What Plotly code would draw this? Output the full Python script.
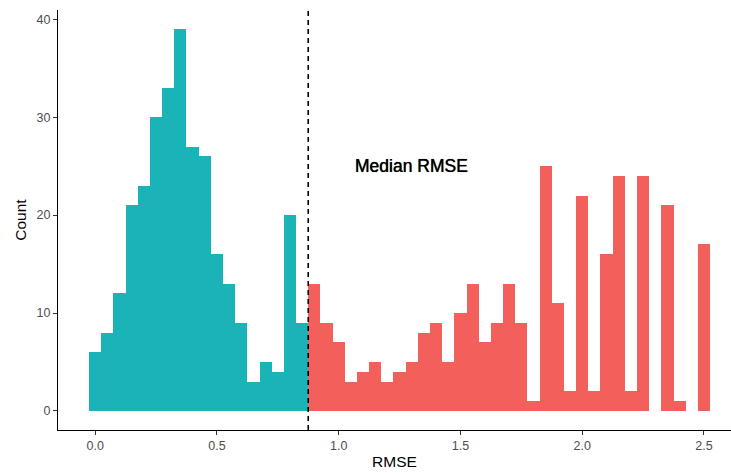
import plotly.graph_objects as go

# Histogram bins (centres, bin width 0.05) and counts
below_centers = [0.00, 0.05, 0.10, 0.15, 0.20, 0.25, 0.30, 0.35, 0.40, 0.45,
                 0.50, 0.55, 0.60, 0.65, 0.70, 0.75, 0.80, 0.85]
below_counts = [6, 8, 12, 21, 23, 30, 33, 39, 27, 26,
                16, 13, 9, 3, 5, 4, 20, 9]

above_centers = [0.90, 0.95, 1.00, 1.05, 1.10, 1.15, 1.20, 1.25, 1.30, 1.35,
                 1.40, 1.45, 1.50, 1.55, 1.60, 1.65, 1.70, 1.75, 1.80, 1.85,
                 1.90, 1.95, 2.00, 2.05, 2.10, 2.15, 2.20, 2.25, 2.30, 2.35,
                 2.40, 2.45, 2.50]
above_counts = [13, 9, 7, 3, 4, 5, 3, 4, 5, 8,
                9, 5, 10, 13, 7, 9, 13, 9, 1, 25,
                11, 2, 22, 2, 16, 24, 2, 24, 0, 21,
                1, 0, 17]

bin_width = 0.05
median_rmse = 0.875
x_ticks = [0.0, 0.5, 1.0, 1.5, 2.0, 2.5]
y_ticks = [0, 10, 20, 30, 40]

FONT = "Liberation Sans, Arial, Helvetica, sans-serif"

fig = go.Figure()
fig.add_trace(go.Bar(x=below_centers, y=below_counts, width=bin_width,
                     marker=dict(color="#19B3B8", line=dict(width=0)),
                     showlegend=False, hoverinfo="x+y"))
fig.add_trace(go.Bar(x=above_centers, y=above_counts, width=bin_width,
                     marker=dict(color="#F3605C", line=dict(width=0)),
                     showlegend=False, hoverinfo="x+y"))

fig.add_shape(type="line", x0=median_rmse, x1=median_rmse, xref="x",
              y0=0, y1=1, yref="paper",
              line=dict(color="black", width=1.6, dash="5px,4px"))

fig.add_annotation(x=1.3, y=25, xref="x", yref="y", text="Median RMSE",
                   showarrow=False,
                   font=dict(family=FONT, size=17.5, color="black",
                             shadow="0px 0px 0.7px #000"))

fig.update_layout(
    width=731, height=473,
    margin=dict(l=58, r=0, t=10, b=43),
    paper_bgcolor="white", plot_bgcolor="white",
    bargap=0,
    barmode="overlay",
    font=dict(family=FONT),
    xaxis=dict(
        range=[-0.1525, 2.611],
        tickvals=x_ticks, tickformat=".1f",
        showline=True, linecolor="black", linewidth=1.2,
        ticks="outside", ticklen=4, tickcolor="#333333", tickwidth=1,
        tickfont=dict(family=FONT, size=12.5, color="#4D4D4D"),
        showgrid=False, zeroline=False,
        title=dict(text="RMSE", font=dict(family=FONT, size=15.5, color="black"),
                   standoff=4),
    ),
    yaxis=dict(
        range=[-1.95, 40.95],
        tickvals=y_ticks,
        showline=True, linecolor="black", linewidth=1.2,
        ticks="outside", ticklen=4, tickcolor="#333333", tickwidth=1,
        tickfont=dict(family=FONT, size=12.5, color="#4D4D4D"),
        showgrid=False, zeroline=False,
        title=dict(text="Count", font=dict(family=FONT, size=15.5, color="black"),
                   standoff=6),
    ),
)

fig.write_html("out.html")
